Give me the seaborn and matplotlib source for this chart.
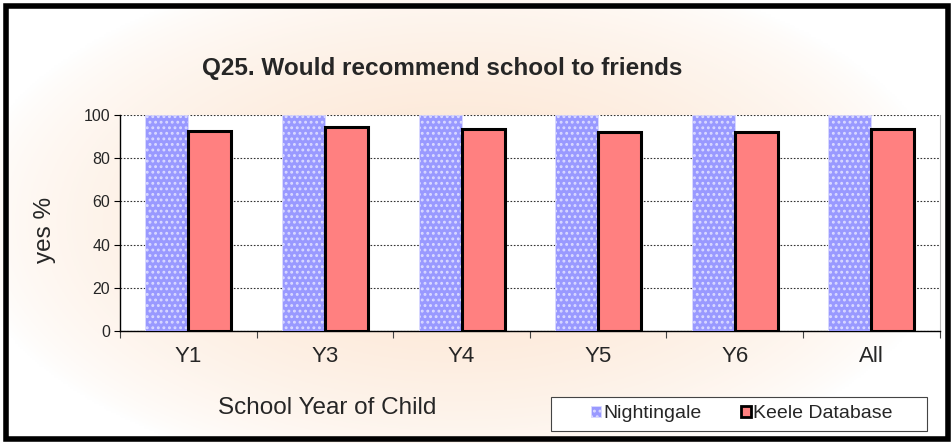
import numpy as np
import pandas as pd
import matplotlib
matplotlib.use("Agg")
import matplotlib.pyplot as plt
import matplotlib.patches as mpatches
import seaborn as sns

# ── Data ───────────────────────────────────────────────────────────────────────
years = ["Y1", "Y3", "Y4", "Y5", "Y6", "All"]
nightingale = [100, 100, 100, 100, 100, 100]
keele = [92.5, 94.5, 93.5, 92.0, 92.0, 93.3]
series = ["Nightingale", "Keele Database"]

df = pd.DataFrame({
    "year": years * 2,
    "source": [series[0]] * len(years) + [series[1]] * len(years),
    "pct": nightingale + keele,
})

BLUE = "#9999FF"
RED = "#FF8080"

sns.set_theme(style="white")
plt.rcParams["font.family"] = ["Liberation Sans", "DejaVu Sans"]
plt.rcParams["hatch.linewidth"] = 1.3

fig = plt.figure(figsize=(9.53, 4.43), dpi=100)

# ── Peach glow background ─────────────────────────────────────────────────────
bg = fig.add_axes([0, 0, 1, 1], zorder=-10)
gx, gy = np.meshgrid(np.linspace(0, 1, 400), np.linspace(0, 1, 200))
r = np.sqrt(((gx - 0.48) / 0.52) ** 2 + ((gy - 0.5) / 0.6) ** 2)
w = np.clip(1 - r, 0, 1) ** 0.7
peach = np.array([252, 226, 204]) / 255
img = (1 - w[..., None]) * np.ones(3) + w[..., None] * peach
bg.imshow(img, aspect="auto", extent=[0, 1, 0, 1], origin="lower")
bg.set_axis_off()

# ── Bars ───────────────────────────────────────────────────────────────────────
ax = fig.add_axes([0.126, 0.2528, 0.860, 0.4876])
ax.set_facecolor("white")
sns.barplot(
    data=df, x="year", y="pct", hue="source", order=years, hue_order=series,
    palette=[BLUE, RED], width=0.63, gap=0, ax=ax, legend=False, zorder=3,
)

n = len(years)
for i, bar in enumerate(ax.patches[: 2 * n]):
    if i < n:
        bar.set_facecolor(BLUE)
        bar.set_edgecolor("#DADAFF")
        bar.set_hatch("...")
        bar.set_linewidth(0.6)
    else:
        bar.set_facecolor(RED)
        bar.set_edgecolor("black")
        bar.set_linewidth(2.2)

ax.set_ylim(0, 100)
ax.set_xlim(-0.5, n - 0.5)
ax.set_yticks([0, 20, 40, 60, 80, 100])
ax.yaxis.grid(True, color="#333333", linestyle=(0, (1.5, 1.5)), linewidth=0.8)
ax.set_axisbelow(True)
ax.tick_params(axis="y", labelsize=11.5, left=True, length=4, width=0.8,
               color="black", pad=3)
ax.tick_params(axis="x", labelsize=16, length=0, pad=11)
ax.set_xticks(np.arange(-0.5, n, 1), minor=True)
ax.tick_params(axis="x", which="minor", bottom=True, length=5, width=0.8,
               color="#444444")
ax.set_xlabel("")
ax.set_ylabel("")

ax.spines["top"].set_visible(False)
ax.spines["right"].set_color("#BBBBBB")
ax.spines["right"].set_linewidth(0.8)
for side in ["left", "bottom"]:
    ax.spines[side].set_color("black")
    ax.spines[side].set_linewidth(1.0)

# ── Text ───────────────────────────────────────────────────────────────────────
fig.text(0.464, 0.846, "Q25. Would recommend school to friends",
         ha="center", va="center", fontsize=17.5, fontweight="bold")
fig.text(0.343, 0.079, "School Year of Child", ha="center", va="center",
         fontsize=17.5)
fig.text(0.047, 0.481, "yes %", ha="center", va="center", rotation=90,
         fontsize=17.5)

# legend box drawn separately so it can be wider than its contents
fig.patches.append(mpatches.Rectangle(
    (551 / 953, 1 - 431 / 443), 376 / 953, 34 / 443, transform=fig.transFigure,
    facecolor="white", edgecolor="#444444", linewidth=0.8, zorder=5,
))
handles = [
    mpatches.Patch(facecolor=BLUE, edgecolor="#DADAFF", hatch="...",
                   linewidth=0.6, label=series[0]),
    mpatches.Patch(facecolor=RED, edgecolor="black", linewidth=2,
                   label=series[1]),
]
leg = fig.legend(
    handles=handles, ncol=2, loc="center", bbox_to_anchor=(0.7786, 0.0655),
    frameon=False, fontsize=14, handlelength=0.5,
    handleheight=0.5, handletextpad=0.15, columnspacing=2.0,
    borderpad=0.35,
)
leg.set_zorder(6)

# ── Outer border ───────────────────────────────────────────────────────────────
fig.patches.append(mpatches.Rectangle(
    (0.006, 0.009), 0.989, 0.978, transform=fig.transFigure,
    fill=False, edgecolor="black", linewidth=4, zorder=20,
))

fig.savefig("out.png", dpi=100)
